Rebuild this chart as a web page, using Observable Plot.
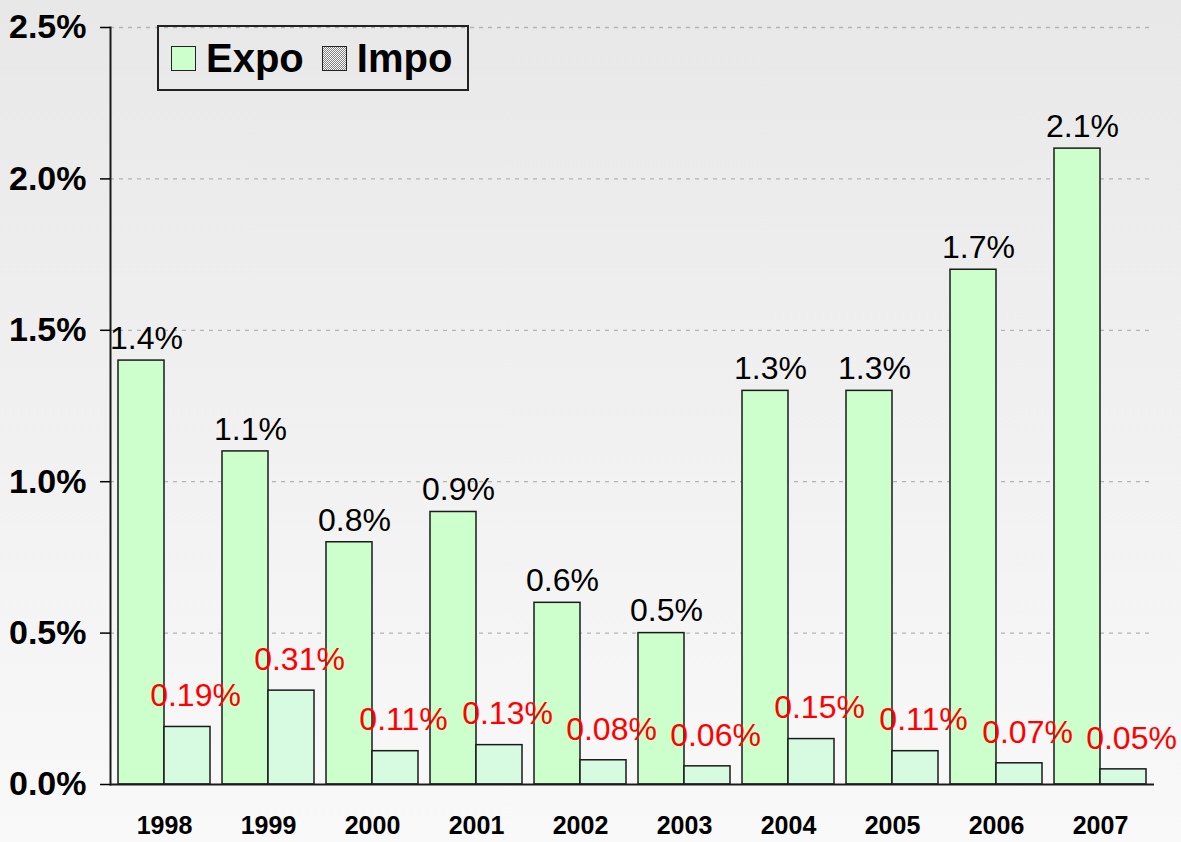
<!DOCTYPE html>
<html>
<head>
<meta charset="utf-8">
<script src="https://cdn.jsdelivr.net/npm/d3@7"></script>
<script src="https://cdn.jsdelivr.net/npm/@observablehq/plot@0.6"></script>
<style>
  html, body { margin: 0; padding: 0; }
  body {
    width: 1181px; height: 842px; overflow: hidden;
    background: linear-gradient(#e8e8e8, #f9f9f9);
    font-family: "Liberation Sans", Arial, sans-serif;
    position: relative;
  }
  #legend {
    position: absolute; left: 157px; top: 25px; width: 308px; height: 62px;
    border: 2px solid #222; box-sizing: content-box;
    display: flex; align-items: center; font-weight: bold; font-size: 40px; color: #000;
  }
  .sw { width: 23px; height: 23px; border: 1.5px solid #222; display: inline-block; margin: 0 10px 0 12px; }
  .expo { background: #ccffcc; }
  .impo { background: repeating-conic-gradient(#808080 0 25%, #ffffff 0 50%) 0 0 / 2px 2px; }
</style>
</head>
<body>
<div id="chart"></div>
<div id="legend"><span class="sw expo"></span><span>Expo</span><span class="sw impo" style="margin-left:18px"></span><span>Impo</span></div>
<script>
const years = ["1998","1999","2000","2001","2002","2003","2004","2005","2006","2007"];
const expo = [1.4, 1.1, 0.8, 0.9, 0.6, 0.5, 1.3, 1.3, 1.7, 2.1];
const impo = [0.19, 0.31, 0.11, 0.13, 0.08, 0.06, 0.15, 0.11, 0.07, 0.05];
const yTicks = [0, 0.5, 1.0, 1.5, 2.0, 2.5];

const data = years.map((y, i) => ({year: y, expo: expo[i], impo: impo[i]}));
const half = 46;
const font = "Liberation Sans, Arial, sans-serif";

const chart = Plot.plot({
  width: 1181,
  height: 842,
  marginLeft: 110,
  marginRight: 27,
  marginTop: 27,
  marginBottom: 58,
  style: {background: "transparent", fontFamily: font, overflow: "visible"},
  x: {type: "band", domain: years, paddingInner: 0.118, paddingOuter: 0.059, axis: null},
  y: {domain: [0, 2.5], axis: null},
  marks: [
    Plot.ruleY(yTicks.filter(d => d > 0), {stroke: "#b4b4b4", strokeDasharray: "4,5", strokeWidth: 1.3}),
    Plot.barY(data, {x: "year", y: "expo", insetRight: half, fill: "#ccffcc", stroke: "#1a1a1a", strokeWidth: 1.5}),
    Plot.barY(data, {x: "year", y: "impo", insetLeft: half, fill: "#d6fbe1", stroke: "#1a1a1a", strokeWidth: 1.5}),
    Plot.ruleY([0], {stroke: "#1a1a1a", strokeWidth: 2}),
    Plot.frame({anchor: "left", stroke: "#1a1a1a", strokeWidth: 2}),
    Plot.axisY({ticks: yTicks, tickSize: 10, tickPadding: 14, fontSize: 34, fontWeight: "bold", fill: "#000",
      tickFormat: d => d.toFixed(1) + "%", strokeWidth: 1.5, label: null}),
    Plot.axisX({tickSize: 0, tickPadding: 32, fontSize: 25, fontWeight: "bold", fill: "#000", label: null}),
    Plot.text(data, {x: "year", y: "expo", text: d => d.expo.toFixed(1) + "%", dx: -half / 2 + 5, dy: -22,
      fontSize: 32, fill: "#000"}),
    Plot.text(data, {x: "year", y: "impo", text: d => d.impo.toFixed(2) + "%", dx: half / 2 + 8, dy: -31,
      fontSize: 32, fill: "#ff0000"})
  ]
});
document.getElementById("chart").appendChild(chart);
</script>
</body>
</html>
